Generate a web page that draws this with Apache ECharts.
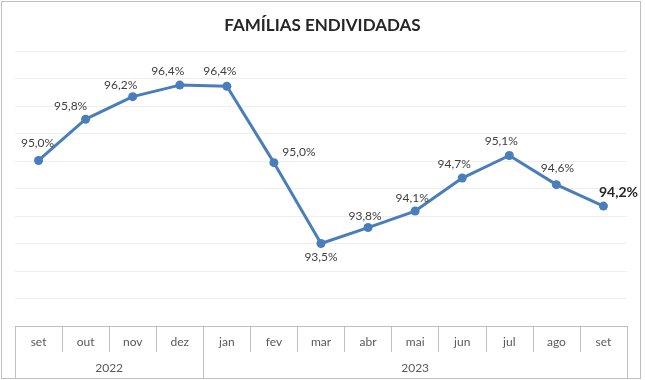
<!DOCTYPE html>
<html>
<head>
<meta charset="utf-8">
<script src="https://cdn.jsdelivr.net/npm/echarts@6/dist/echarts.min.js"></script>
<style>
html,body{margin:0;padding:0;background:#fff;}
#chart{position:absolute;left:0;top:0;width:645px;height:380px;}
#frame{position:absolute;left:1px;top:1px;width:638px;height:376px;border:1px solid #bfbfbf;pointer-events:none;}
</style>
</head>
<body>
<div id="chart"></div>
<div id="frame"></div>
<script>
// Data
const months = ['set','out','nov','dez','jan','fev','mar','abr','mai','jun','jul','ago','set'];
const years = ['2022','2023'];
const yearMonthCounts = [4, 9];
const indebtedPct = [95.01, 95.76, 96.17, 96.38, 96.36, 94.97, 93.5, 93.79, 94.09, 94.69, 95.10, 94.57, 94.18];
const title = 'FAMÍLIAS ENDIVIDADAS';

// Label placement (style)
const labelShift = [[-1,-17],[-15,-13],[-12,-12],[-12,-14],[-7,-15],[25,-11],[0,14],[-3,-11],[-3,-13],[-8,-14],[-8,-14],[1,-17],[15,-14]];

const fmt = v => v.toFixed(1).replace('.', ',') + '%';
const last = indebtedPct.length - 1;
const seriesData = indebtedPct.map((v, i) => ({
  value: v,
  label: {
    offset: labelShift[i],
    fontWeight: i === last ? 'bold' : 'normal',
    fontSize: i === last ? 14 : 12,
    color: i === last ? '#262626' : '#404040'
  }
}));

// Year group boundaries and centres
const bounds = [0];
yearMonthCounts.forEach(c => bounds.push(bounds[bounds.length - 1] + c));
const centres = yearMonthCounts.map((c, i) => bounds[i] + c / 2);

const chart = echarts.init(document.getElementById('chart'), null, {renderer: 'canvas'});
chart.setOption({
  animation: false,
  textStyle: {fontFamily: 'Lato'},
  title: {
    text: title, left: 'center', top: 12,
    textStyle: {fontFamily: 'Lato', fontWeight: 'bold', fontSize: 17, color: '#262626'}
  },
  grid: {left: 15, right: 18, top: 51, bottom: 54, containLabel: false},
  xAxis: [{
    type: 'category', data: months, boundaryGap: true, position: 'bottom',
    axisLine: {show: true, lineStyle: {color: '#bfbfbf', width: 1}},
    axisTick: {show: true, interval: 0, length: 26, lineStyle: {color: '#bfbfbf'}},
    axisLabel: {interval: 0, margin: 10, color: '#595959', fontSize: 12, fontFamily: 'Lato'},
    splitLine: {show: false}
  }, {
    type: 'value', min: 0, max: bounds[bounds.length - 1], position: 'bottom',
    axisLine: {show: false},
    splitLine: {show: false},
    axisTick: {show: true, customValues: bounds, length: 52, lineStyle: {color: '#bfbfbf'}},
    axisLabel: {
      show: true, customValues: centres, margin: 36, color: '#595959', fontSize: 12, fontFamily: 'Lato',
      formatter: v => { const i = centres.indexOf(v); return i >= 0 ? years[i] : ''; }
    }
  }],
  yAxis: {
    type: 'value', min: 92, max: 97, interval: 0.5,
    axisLine: {show: false}, axisTick: {show: false}, axisLabel: {show: false},
    splitLine: {show: true, lineStyle: {color: '#eeeeee', width: 1}}
  },
  series: [{
    type: 'line', data: seriesData, xAxisIndex: 0,
    smooth: false,
    symbol: 'circle', symbolSize: 9,
    lineStyle: {color: '#4a7ebb', width: 3},
    itemStyle: {color: '#4a7ebb'},
    label: {show: true, position: 'inside', formatter: p => fmt(p.value), fontFamily: 'Lato'}
  }]
});
</script>
</body>
</html>
